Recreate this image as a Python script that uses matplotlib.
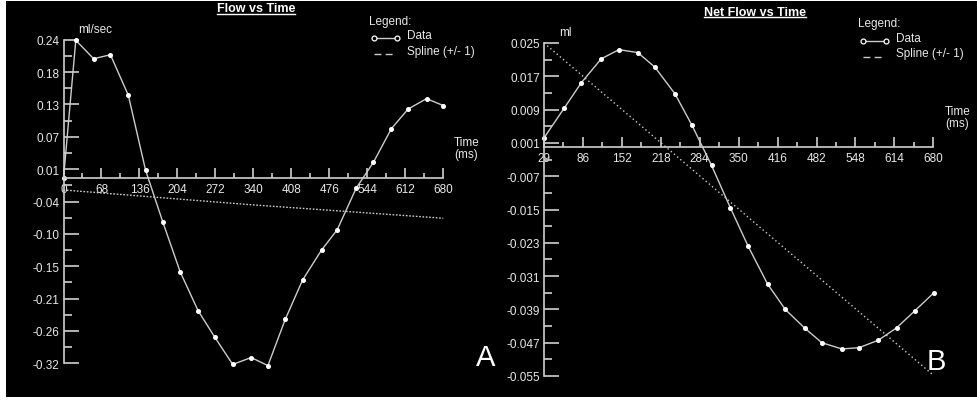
import matplotlib
matplotlib.use("Agg")
import matplotlib.pyplot as plt
import matplotlib.patches as mpatches
from matplotlib.lines import Line2D

plt.rcParams["font.family"] = ["Liberation Sans", "DejaVu Sans"]

W, H = 977, 402

# ── Panel A: Flow vs Time ────────────────────────────────────────────
TIME_A = [0, 22, 54, 84, 116, 147, 178, 209, 241, 271, 303, 336,
          366, 397, 428, 462, 490, 524, 555, 587, 617, 650, 680]
FLOW_A = [0.0, 0.239, 0.207, 0.214, 0.144, 0.014, -0.076, -0.162,
          -0.229, -0.275, -0.322, -0.310, -0.324, -0.244, -0.176,
          -0.124, -0.089, -0.017, 0.028, 0.086, 0.120, 0.138, 0.126]
SPLINE_A_T = [0, 334, 680]
SPLINE_A = [-0.020, -0.0455, -0.069]
XTICKS_A = [0, 68, 136, 204, 272, 340, 408, 476, 544, 612, 680]
XMINOR_A = [34, 102, 170, 238, 306, 374, 442, 510, 578, 646]
YTICKS_A = [0.24, 0.184, 0.128, 0.072, 0.016, -0.04, -0.096, -0.152,
            -0.208, -0.264, -0.32]
YLABELS_A = ["0.24", "0.18", "0.13", "0.07", "0.01", "-0.04", "-0.10",
             "-0.15", "-0.21", "-0.26", "-0.32"]

# ── Panel B: Net Flow vs Time ────────────────────────────────────────
TIME_B = [20, 54, 83, 117, 147, 179, 208, 242, 271, 304, 336, 366,
          399, 429, 462, 491, 525, 554, 587, 618, 649, 681]
NET_B = [0.0022, 0.0093, 0.0154, 0.0212, 0.0234, 0.0227, 0.0192,
         0.0128, 0.0052, -0.0044, -0.0146, -0.0238, -0.0329, -0.0390,
         -0.0435, -0.0470, -0.0485, -0.0482, -0.0464, -0.0434,
         -0.0393, -0.0350]
SPLINE_B_T = [20, 680]
SPLINE_B = [0.025, -0.0548]
XTICKS_B = [20, 86, 152, 218, 284, 350, 416, 482, 548, 614, 680]
XLABELS_B = ["29", "86", "152", "218", "284", "350", "416", "482",
             "548", "614", "680"]
XMINOR_B = [53, 119, 185, 251, 317, 383, 449, 515, 581, 647]
YTICKS_B = [0.025, 0.017, 0.009, 0.001, -0.007, -0.015, -0.023,
            -0.031, -0.039, -0.047, -0.055]
YMINOR_B = [0.021, 0.013, 0.005, -0.003, -0.011, -0.019, -0.027,
            -0.035, -0.043, -0.051]

AXIS = "#cfcfcf"
TXT = "#e8e8e8"
LINE = "#cccccc"


def fx(x):
    return x / W


def fy(y):
    return 1 - y / H


def add_axes(x0, y0, x1, y1):
    # pixel box (left, top, right, bottom) -> figure fraction
    return fig.add_axes([fx(x0), fy(y1), (x1 - x0) / W, (y1 - y0) / H])


def style_axes(ax, xlim, ylim, xt, xl, xm, yt, yl, ym):
    ax.set_xlim(xlim)
    ax.set_ylim(ylim)
    ax.set_facecolor("none")
    ax.spines["top"].set_visible(False)
    ax.spines["right"].set_visible(False)
    ax.spines["bottom"].set_position(("data", 0))
    for s in ("left", "bottom"):
        ax.spines[s].set_color(AXIS)
        ax.spines[s].set_linewidth(1.2)
    ax.set_xticks(xt, xl)
    ax.set_xticks(xm, minor=True)
    ax.set_yticks(yt, yl)
    ax.set_yticks(ym, minor=True)
    ax.tick_params(which="both", direction="in", color=AXIS, width=1.2,
                   labelcolor=TXT, labelsize=8.5)
    ax.tick_params(axis="x", which="major", length=7, pad=3.5)
    ax.tick_params(axis="x", which="minor", length=3.5)
    ax.tick_params(axis="y", which="major", length=11, pad=3)
    ax.tick_params(axis="y", which="minor", length=6)


def legend(x, y):
    fig.text(fx(x), fy(y), "Legend:", color=TXT, fontsize=8.5,
             va="center", ha="left")
    fig.add_artist(Line2D([fx(x + 5), fx(x + 28)], [fy(y + 17)] * 2,
                          transform=fig.transFigure, color=LINE, lw=1,
                          marker="o", markersize=3.5, markerfacecolor="black",
                          markeredgecolor="white", markeredgewidth=0.9))
    fig.text(fx(x + 38), fy(y + 14), "Data", color=TXT, fontsize=8.5,
             va="center", ha="left")
    fig.add_artist(Line2D([fx(x + 5), fx(x + 27)], [fy(y + 33)] * 2,
                          transform=fig.transFigure, color=LINE, lw=1,
                          linestyle=(0, (5, 3))))
    fig.text(fx(x + 38), fy(y + 30), "Spline (+/- 1)", color=TXT,
             fontsize=8.5, va="center", ha="left")


def title(cx, cy, s):
    t = fig.text(fx(cx), fy(cy), s, color="white", fontsize=9,
                 fontweight="bold", ha="center", va="center")
    return t


fig = plt.figure(figsize=(W / 100, H / 100), dpi=100, facecolor="white")
fig.add_artist(mpatches.Rectangle((fx(6), fy(398)), 1 - fx(6), fy(2) - fy(398),
                                  transform=fig.transFigure,
                                  facecolor="black", edgecolor="none",
                                  zorder=0))

# ── Panel A ──────────────────────────────────────────────────────────
axA = add_axes(63.5, 40.7, 443.3, 364.3)
style_axes(axA, (0, 680), (-0.32, 0.24), XTICKS_A,
           [str(v) for v in XTICKS_A], XMINOR_A, YTICKS_A, YLABELS_A,
           [(a + b) / 2 for a, b in zip(YTICKS_A[:-1], YTICKS_A[1:])])
axA.plot(SPLINE_A_T, SPLINE_A, color=LINE, lw=1, linestyle=(0, (1.2, 1.2)),
         clip_on=False)
axA.plot(TIME_A, FLOW_A, color=LINE, lw=1, marker="o", markersize=2.6,
         markerfacecolor="white", markeredgecolor="white", clip_on=False)

# ── Panel B ──────────────────────────────────────────────────────────
axB = add_axes(544, 44, 933.3, 377)
style_axes(axB, (20, 680), (-0.055, 0.025), XTICKS_B, XLABELS_B,
           XMINOR_B, YTICKS_B, [f"{v:.3f}" for v in YTICKS_B], YMINOR_B)
axB.plot(SPLINE_B_T, SPLINE_B, color=LINE, lw=1, linestyle=(0, (1, 2)),
         clip_on=False)
axB.plot(TIME_B, NET_B, color=LINE, lw=1, marker="o", markersize=2.6,
         markerfacecolor="white", markeredgecolor="white", clip_on=False)

# ── Annotations ──────────────────────────────────────────────────────
tA = title(256, 9.5, "Flow vs Time")
tB = title(755, 12.5, "Net Flow vs Time")
fig.text(fx(78), fy(30), "ml/sec", color=TXT, fontsize=8.5,
         va="center", ha="left")
fig.text(fx(559), fy(33.5), "ml", color=TXT, fontsize=8.5,
         va="center", ha="left")
fig.text(fx(454), fy(149), "Time\n(ms)", color=TXT, fontsize=8.5,
         va="center", ha="left", linespacing=1.0)
fig.text(fx(945), fy(118), "Time\n(ms)", color=TXT, fontsize=8.5,
         va="center", ha="left", linespacing=1.0)
legend(369, 22)
legend(858, 24.5)
fig.text(fx(485.5), fy(358), "A", color="white", fontsize=21,
         ha="center", va="center")
fig.text(fx(936), fy(362), "B", color="white", fontsize=21,
         ha="center", va="center")

# underline the titles
fig.canvas.draw()
renderer = fig.canvas.get_renderer()
for t in (tA, tB):
    bb = t.get_window_extent(renderer).transformed(fig.transFigure.inverted())
    fig.add_artist(Line2D([bb.x0, bb.x1], [bb.y0 + 0.2 / H] * 2,
                          transform=fig.transFigure, color="white", lw=1))

fig.savefig("out.png", dpi=100, facecolor="white")
